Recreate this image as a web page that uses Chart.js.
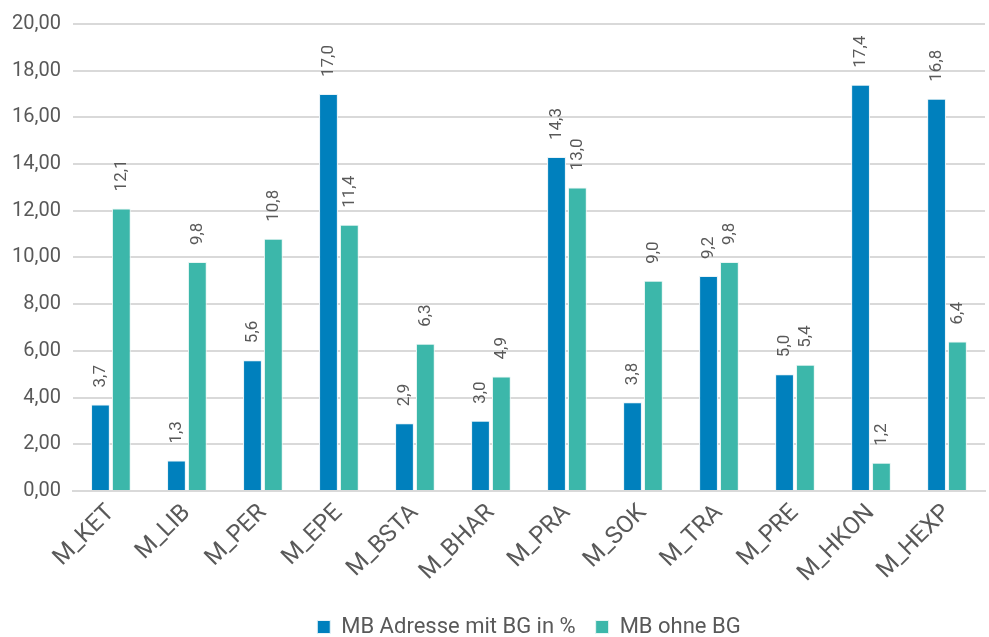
<!DOCTYPE html>
<html>
<head>
<meta charset="utf-8">
<style>
  html, body { margin: 0; padding: 0; background: #fff; }
  #wrap { position: relative; width: 989px; height: 637px; }
</style>
</head>
<body>
<div id="wrap">
  <canvas id="myChart"></canvas>
</div>

<script src="https://cdn.jsdelivr.net/npm/chart.js"></script>

<script>
const categories = ["M_KET", "M_LIB", "M_PER", "M_EPE", "M_BSTA", "M_BHAR",
                    "M_PRA", "M_SOK", "M_TRA", "M_PRE", "M_HKON", "M_HEXP"];
const mitBG  = [3.7, 1.3, 5.6, 17.0, 2.9, 3.0, 14.3, 3.8, 9.2, 5.0, 17.4, 16.8];
const ohneBG = [12.1, 9.8, 10.8, 11.4, 6.3, 4.9, 13.0, 9.0, 9.8, 5.4, 1.2, 6.4];
const seriesNames = ["MB Adresse mit BG in %", "MB ohne BG"];
const yMin = 0, yMax = 20, yStep = 2;

const fontFamily = "Roboto, 'DejaVu Sans', sans-serif";
const textColor = "#595959";

// value labels above each bar, turned 90 degrees
const barLabels = {
  id: 'barLabels',
  afterDatasetsDraw(chart) {
    const ctx = chart.ctx;
    ctx.save();
    ctx.font = "17px " + fontFamily;
    ctx.fillStyle = textColor;
    ctx.textAlign = 'left';
    ctx.textBaseline = 'middle';
    chart.data.datasets.forEach((ds, i) => {
      chart.getDatasetMeta(i).data.forEach((bar, j) => {
        const txt = ds.data[j].toFixed(1).replace('.', ',');
        ctx.save();
        ctx.translate(bar.x, bar.y - 17);
        ctx.rotate(-Math.PI / 2);
        ctx.fillText(txt, 0, 0);
        ctx.restore();
      });
    });
    ctx.restore();
  }
};

const ctx = document.getElementById('myChart');
new Chart(ctx, {
  type: 'bar',
  data: {
    labels: categories,
    datasets: [{
      label: seriesNames[0],
      data: mitBG,
      backgroundColor: "#0080bd",
      borderColor: "#e8f3f8",
      borderWidth: 1
    }, {
      label: seriesNames[1],
      data: ohneBG,
      backgroundColor: "#3cb7aa",
      borderColor: "#e8f6f4",
      borderWidth: 1
    }]
  },
  options: {
    responsive: true,
    maintainAspectRatio: false,
    animation: false,
    layout: { padding: { top: 4, right: 4, left: 0, bottom: -11 } },
    categoryPercentage: 0.55,
    barPercentage: 0.9,
    plugins: {
      legend: {
        position: 'bottom',
        fullSize: false,
        labels: {
          font: { size: 22, family: fontFamily },
          color: textColor,
          boxWidth: 13,
          boxHeight: 13,
          padding: 20
        }
      },
      tooltip: { enabled: false }
    },
    scales: {
      x: {
        grid: { display: false, drawTicks: false },
        border: { color: "#d9d9d9", width: 2 },
        ticks: {
          color: textColor,
          font: { size: 24, family: fontFamily },
          maxRotation: 45,
          minRotation: 45,
          padding: 8
        }
      },
      y: {
        min: yMin,
        max: yMax,
        grid: { color: "#d9d9d9", lineWidth: 2, drawTicks: false },
        border: { display: false },
        ticks: {
          stepSize: yStep,
          color: textColor,
          font: { size: 20, family: fontFamily },
          padding: 12,
          callback: v => v.toFixed(2).replace('.', ',')
        }
      }
    }
  },
  plugins: [barLabels]
});
</script>
</body>
</html>
